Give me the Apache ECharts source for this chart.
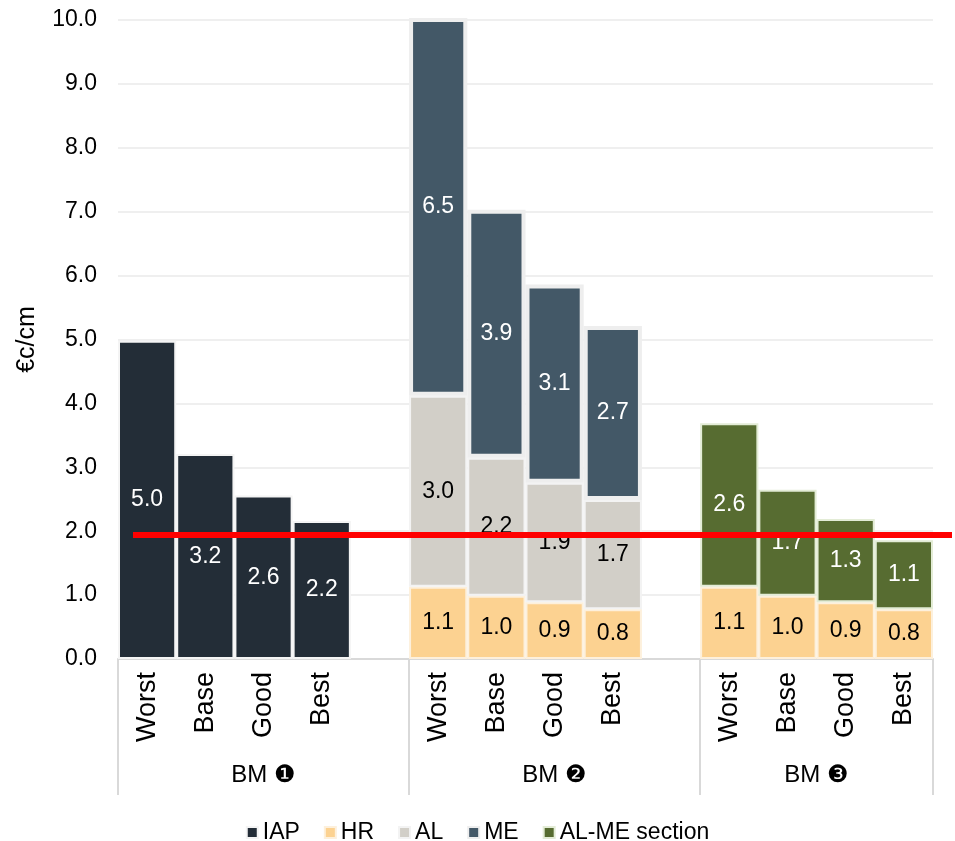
<!DOCTYPE html>
<html>
<head>
<meta charset="utf-8">
<script src="https://cdn.jsdelivr.net/npm/echarts@6/dist/echarts.min.js"></script>
<style>
  html, body { margin: 0; padding: 0; background: #fff; }
  #chart { width: 955px; height: 841px; }
</style>
</head>
<body>
<div id="chart"></div>
<script>
// slots: 4 scenarios per model, with an empty slot between groups
const scenarios = ['Worst', 'Base', 'Good', 'Best', '', 'Worst', 'Base', 'Good', 'Best', '', 'Worst', 'Base', 'Good', 'Best'];
const groupNames = ['BM \u2776', 'BM \u2777', 'BM \u2778'];

const iap = [4.98, 3.21, 2.56, 2.16, null, null, null, null, null, null, null, null, null, null];
const hr = [null, null, null, null, null, 1.13, 0.99, 0.89, 0.78, null, 1.13, 0.99, 0.89, 0.78];
const al = [null, null, null, null, null, 2.99, 2.16, 1.87, 1.71, null, null, null, null, null];
const me = [null, null, null, null, null, 6.5, 3.88, 3.1, 2.72, null, null, null, null, null];
const alMe = [null, null, null, null, null, null, null, null, null, null, 2.56, 1.66, 1.3, 1.08];

const thresholdValue = 1.94;

const FONT = 'Liberation Sans, Arial, sans-serif';

// half-slot axis used for the group labels and separators
const halfSlots = [];
for (let i = 0; i <= 28; i++) halfSlots.push('');
const groupLabelAt = { 5: groupNames[0], 15: groupNames[1], 24: groupNames[2] };
const separatorAt = [0, 10, 20, 28];

const chart = echarts.init(document.getElementById('chart'));

function barSeries(name, data, color, border, borderWidth, labelColor) {
  return {
    name: name,
    type: 'bar',
    stack: 'total',
    barCategoryGap: 0,
    data: data,
    itemStyle: { color: color, borderColor: border, borderWidth: borderWidth },
    label: {
      show: true,
      position: 'inside',
      color: labelColor,
      fontFamily: FONT,
      fontSize: 23,
      formatter: p => (p.value == null ? '' : p.value.toFixed(1))
    },
    emphasis: { disabled: true }
  };
}

const option = {
  animation: false,
  grid: { left: 118, right: 22, top: 20, bottom: 182 },
  legend: {
    top: 816,
    icon: 'rect',
    itemWidth: 11,
    itemHeight: 11,
    itemGap: 24,
    textStyle: { fontFamily: FONT, fontSize: 23, color: '#000' },
    data: ['IAP', 'HR', 'AL', 'ME', 'AL-ME section']
  },
  xAxis: [
    {
      type: 'category',
      data: scenarios,
      axisLine: { lineStyle: { color: '#d9d9d9', width: 2 } },
      axisTick: { show: false },
      axisLabel: {
        rotate: 90,
        interval: 0,
        margin: 13,
        color: '#000',
        fontFamily: FONT,
        fontSize: 27
      }
    },
    {
      type: 'category',
      position: 'bottom',
      boundaryGap: false,
      data: halfSlots,
      axisLine: { show: false },
      axisTick: {
        show: true,
        length: 136,
        interval: idx => separatorAt.indexOf(idx) >= 0,
        lineStyle: { color: '#d9d9d9', width: 2 }
      },
      axisLabel: {
        interval: 0,
        margin: 104,
        color: '#000',
        fontFamily: FONT,
        fontSize: 24,
        formatter: (v, idx) => groupLabelAt[idx] || ''
      }
    }
  ],
  yAxis: {
    type: 'value',
    min: 0,
    max: 10,
    interval: 1,
    name: '\u20acc/cm',
    nameLocation: 'middle',
    nameGap: 78,
    nameTextStyle: { fontFamily: FONT, fontSize: 25, color: '#000' },
    axisLine: { show: false },
    axisTick: { show: false },
    axisLabel: {
      margin: 21,
      color: '#000',
      fontFamily: FONT,
      fontSize: 23,
      formatter: v => v.toFixed(1)
    },
    splitLine: { lineStyle: { color: '#efefef', width: 2 } }
  },
  series: [
    barSeries('IAP', iap, '#232d37', '#f4f4f4', 2, '#fff'),
    barSeries('HR', hr, '#fcd291', '#fdf0dc', 2, '#000'),
    barSeries('AL', al, '#d2cfc8', '#f3f3f3', 2, '#000'),
    barSeries('ME', me, '#435867', '#eeeeee', 4, '#fff'),
    barSeries('AL-ME section', alMe, '#576c31', '#e3ecd6', 2, '#fff')
  ]
};

chart.setOption(option);

// red threshold line across the chart
const yPix = chart.convertToPixel({ yAxisIndex: 0 }, thresholdValue);
chart.setOption({
  graphic: [{
    type: 'line',
    z: 100,
    shape: { x1: 133, y1: yPix, x2: 952, y2: yPix },
    style: { stroke: '#ff0000', lineWidth: 6 }
  }]
});
</script>
</body>
</html>
